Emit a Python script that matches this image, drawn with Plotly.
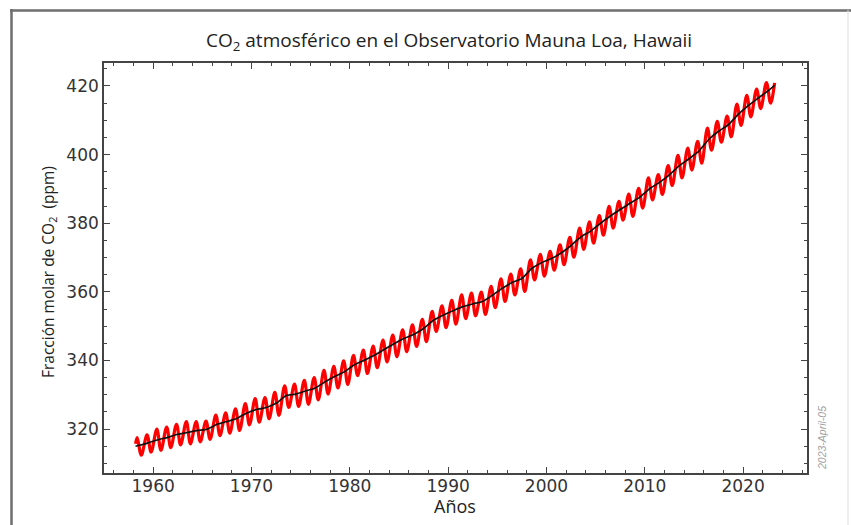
import plotly.graph_objects as go

# Mauna Loa monthly CO2 record, summarised by each year's seasonal maximum (May)
# and minimum (October), plus the deseasonalised annual trend (ppm).
years = list(range(1958, 2023))

seasonal_max = [
    317.5, 318.3, 320.0, 320.6, 321.4, 322.2, 322.2, 322.3, 324.1, 324.7,
    325.9, 327.4, 328.9, 329.2, 330.7, 332.6, 333.1, 334.2, 335.0, 337.1,
    338.3, 339.9, 341.5, 343.0, 344.2, 345.9, 347.4, 348.9, 350.4, 352.0,
    354.3, 355.9, 357.5, 359.1, 359.6, 359.9, 361.6, 363.8, 365.2, 366.7,
    369.3, 370.9, 371.8, 373.7, 375.9, 378.6, 380.4, 382.2, 384.9, 386.4,
    388.5, 390.2, 393.2, 394.2, 396.8, 399.8, 401.9, 403.9, 407.7, 409.7,
    411.2, 414.7, 417.3, 419.1, 421.0,
]

seasonal_min = [
    312.4, 313.3, 313.8, 314.6, 315.4, 315.7, 316.3, 317.0, 318.1, 318.8,
    319.6, 321.2, 322.0, 323.0, 324.0, 326.3, 326.6, 327.2, 328.5, 330.2,
    332.0, 333.0, 335.6, 336.2, 337.9, 339.6, 341.1, 342.6, 344.1, 345.5,
    348.5, 349.6, 350.6, 352.2, 353.0, 353.4, 355.4, 357.2, 359.1, 360.1,
    363.5, 364.6, 366.3, 367.9, 370.1, 372.4, 374.2, 376.5, 378.6, 380.9,
    382.0, 384.4, 386.8, 388.4, 391.0, 393.2, 395.5, 397.5, 401.3, 403.6,
    405.2, 408.5, 411.0, 413.4, 415.0,
]

annual_mean = [
    315.2, 316.0, 316.9, 317.6, 318.5, 319.0, 319.6, 320.0, 321.4, 322.2,
    323.1, 324.6, 325.7, 326.3, 327.5, 329.7, 330.2, 331.1, 332.0, 333.8,
    335.4, 336.8, 338.8, 340.1, 341.5, 343.2, 344.9, 346.4, 347.6, 349.3,
    351.7, 353.2, 354.5, 355.7, 356.5, 357.2, 359.0, 361.0, 362.7, 363.9,
    366.8, 368.5, 369.7, 371.3, 373.5, 376.0, 377.7, 380.0, 382.1, 384.0,
    385.8, 387.6, 390.1, 391.9, 394.1, 396.7, 398.8, 401.0, 404.4, 406.8,
    408.7, 411.7, 414.2, 416.4, 418.5,
]

# Record endpoints: first reading (March 1958) and latest reading (March 2023)
first_month = (1958, 3, 315.7)
last_month = (2023, 3, 420.9)
trend_start = 315.0
trend_end = 420.2

MAX_MONTH = 5
MIN_MONTH = 10


def decimal_year(year, month):
    return year + (month - 0.5) / 12.0


# Seasonal cycle: alternate yearly maxima and minima between the record endpoints
cycle_x = [decimal_year(first_month[0], first_month[1])]
cycle_y = [first_month[2]]
for yr, hi, lo in zip(years, seasonal_max, seasonal_min):
    cycle_x += [decimal_year(yr, MAX_MONTH), decimal_year(yr, MIN_MONTH)]
    cycle_y += [hi, lo]
cycle_x.append(decimal_year(last_month[0], last_month[1]))
cycle_y.append(last_month[2])

trend_x = [decimal_year(first_month[0], first_month[1])] + [y + 0.5 for y in years] + [decimal_year(last_month[0], last_month[1])]
trend_y = [trend_start] + annual_mean + [trend_end]

fig = go.Figure()
fig.add_trace(go.Scatter(
    x=cycle_x, y=cycle_y, mode="lines",
    line=dict(color="#ff0000", width=3.2, shape="spline", smoothing=1.0),
    hoverinfo="skip", showlegend=False,
))
fig.add_trace(go.Scatter(
    x=trend_x, y=trend_y, mode="lines",
    line=dict(color="#111111", width=1.7, shape="spline", smoothing=0.6),
    showlegend=False,
))

axis_common = dict(
    showline=True, linecolor="#444444", linewidth=1.6, mirror="ticks",
    ticks="inside", ticklen=6, tickwidth=1.2, tickcolor="#444444",
    showgrid=False, zeroline=False,
    tickfont=dict(family="DejaVu Sans", size=17, color="#333333"),
)

fig.update_xaxes(
    range=[1955.0, 2026.5], tickvals=[1960, 1970, 1980, 1990, 2000, 2010, 2020],
    ticklabelstandoff=-3,
    minor=dict(dtick=2, tick0=1960, ticks="inside", ticklen=3, tickcolor="#444444", showgrid=False),
    **axis_common,
)
fig.update_yaxes(
    range=[307.2, 426.7], tickvals=[320, 340, 360, 380, 400, 420],
    minor=dict(dtick=5, tick0=320, ticks="inside", ticklen=3, tickcolor="#444444", showgrid=False),
    **axis_common,
)

W, H = 851, 525
L, R, T, B = 104, 807, 63, 473


def px(xp):
    return (xp - L) / (R - L)


def py(yp):
    return (B - yp) / (B - T)


text_font = "Open Sans"
fig.update_layout(
    width=W, height=H,
    margin=dict(l=L, r=W - R, t=T, b=H - B, pad=0),
    paper_bgcolor="white", plot_bgcolor="white",
    annotations=[
        dict(text="CO<sub>2</sub> atmosférico en el Observatorio Mauna Loa, Hawaii",
             x=px(449), y=py(41), xref="paper", yref="paper", showarrow=False,
             xanchor="center", yanchor="middle",
             font=dict(family=text_font, size=19, color="#222222")),
        dict(text="Años", x=px(455), y=py(506), xref="paper", yref="paper", showarrow=False,
             xanchor="center", yanchor="middle",
             font=dict(family=text_font, size=18, color="#222222")),
        dict(text="Fracción molar de CO<sub>2</sub>  (ppm)", x=px(48), y=py(272),
             xref="paper", yref="paper", showarrow=False, textangle=-90,
             xanchor="center", yanchor="middle",
             font=dict(family=text_font, size=15.5, color="#222222")),
        dict(text="<i>2023-April-05</i>", x=px(822), y=py(438), xref="paper", yref="paper",
             showarrow=False, textangle=-90, xanchor="center", yanchor="middle",
             font=dict(family="Liberation Sans Narrow, Liberation Sans", size=10.5, color="#a0a0a0")),
    ],
    shapes=[
        dict(type="line", xref="paper", yref="paper", x0=px(11.5), x1=px(11.5), y0=py(9), y1=py(526),
             line=dict(color="#6e6e6e", width=2.5)),
        dict(type="line", xref="paper", yref="paper", x0=px(10), x1=px(852), y0=py(10.5), y1=py(10.5),
             line=dict(color="#6e6e6e", width=2.5)),
        dict(type="line", xref="paper", yref="paper", x0=px(848), x1=px(848), y0=py(10), y1=py(526),
             line=dict(color="#dddddd", width=1)),
    ],
)

fig.write_html("out.html")
